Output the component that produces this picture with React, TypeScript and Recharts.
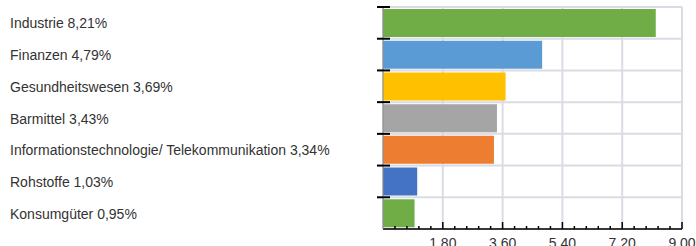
import React from "react";
import { BarChart, Bar, XAxis, YAxis, CartesianGrid, Cell } from "recharts";

const sectors = [
  "Industrie",
  "Finanzen",
  "Gesundheitswesen",
  "Barmittel",
  "Informationstechnologie/ Telekommunikation",
  "Rohstoffe",
  "Konsumgüter",
];
const weights = [8.21, 4.79, 3.69, 3.43, 3.34, 1.03, 0.95];
const barColors = ["#70ad47", "#5b9bd5", "#ffc000", "#a5a5a5", "#ed7d31", "#4472c4", "#70ad47"];
const majorTicks = [0, 1.8, 3.6, 5.4, 7.2, 9];
const axisTicks = Array.from({ length: 26 }, (_, k) => (k * 9) / 25);

const data = sectors.map((s, i) => ({
  name: `${s} ${weights[i].toFixed(2).replace(".", ",")}%`,
  value: weights[i],
}));

const FONT = "'Liberation Sans', Arial, sans-serif";

const YTick = (props: any) => {
  const { x, y, payload } = props;
  const half = payload && payload.offset > 0 ? payload.offset : 222 / 14;
  return (
    <g>
      <line x1={x - 6} x2={x + 7} y1={y - half} y2={y - half} stroke="#000" strokeWidth={2} />
      <text x={10} y={y + 5.5} fontSize={14} fontFamily={FONT} fill="#333" textAnchor="start">
        {payload.value}
      </text>
    </g>
  );
};

const XTick = (props: any) => {
  const { x, y, index } = props;
  if (index === 0) return <g />;
  const major = index % 5 === 0;
  return (
    <g>
      <line x1={x} x2={x} y1={major ? y - 7 : y - 3} y2={y} stroke="#000" strokeWidth={1.5} />
      {major && (
        <text x={x} y={y + 18.5} fontSize={14} fontFamily={FONT} fill="#333" textAnchor="middle">
          {axisTicks[index].toFixed(2)}
        </text>
      )}
    </g>
  );
};

export default function App() {
  return (
    <div style={{ position: "absolute", left: 0, top: 0 }}>
      <BarChart
        width={696}
        height={246}
        data={data}
        layout="vertical"
        margin={{ top: 7, right: 14, bottom: 0, left: 0 }}
      >
        <CartesianGrid
          stroke="#d9dce4"
          strokeWidth={2}
          verticalValues={majorTicks}
          horizontalCoordinatesGenerator={({ offset }: any) =>
            Array.from({ length: sectors.length + 1 }, (_, i) => offset.top + (i * offset.height) / sectors.length)
          }
        />
        <XAxis
          type="number"
          domain={[0, 9]}
          ticks={axisTicks}
          interval={0}
          height={17}
          tickSize={0}
          tickMargin={0}
          tickLine={false}
          axisLine={{ stroke: "#000", strokeWidth: 1.5 }}
          tick={<XTick />}
        />
        <YAxis
          type="category"
          dataKey="name"
          width={383}
          interval={0}
          tickSize={0}
          tickMargin={0}
          tickLine={false}
          axisLine={{ stroke: "#8c8c8c", strokeWidth: 1 }}
          tick={<YTick />}
        />
        <Bar dataKey="value" barSize={28} isAnimationActive={false}>
          {data.map((d, i) => (
            <Cell key={d.name} fill={barColors[i]} />
          ))}
        </Bar>
      </BarChart>
    </div>
  );
}
